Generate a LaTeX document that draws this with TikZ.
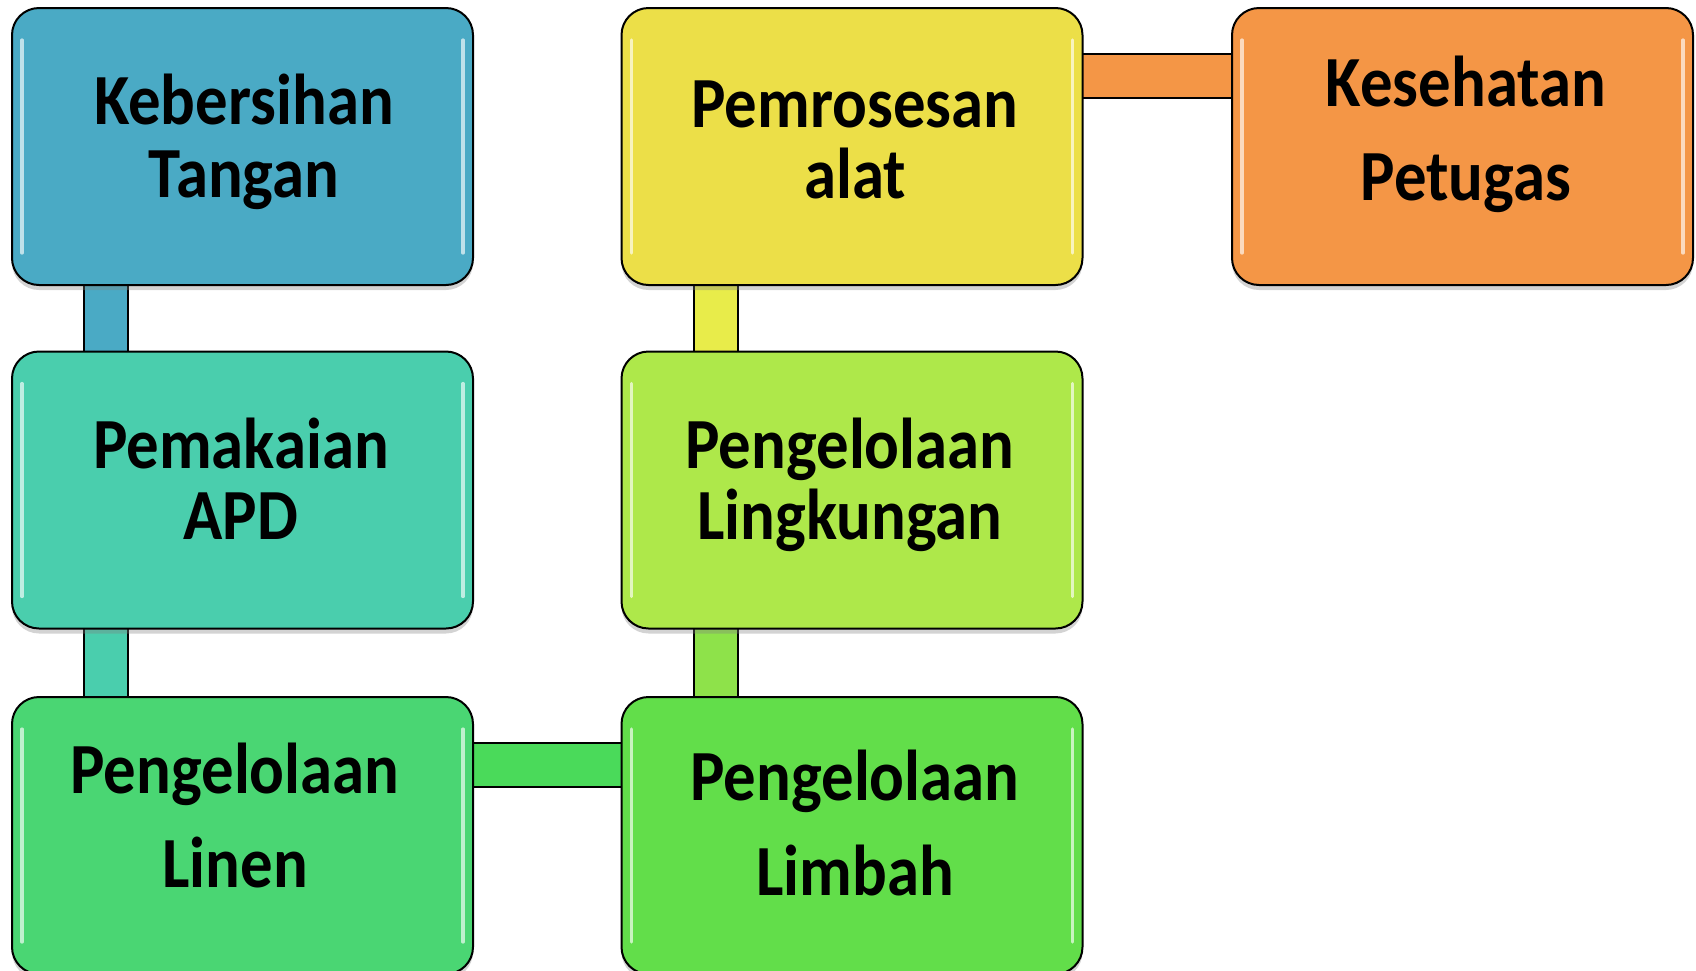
\documentclass[tikz,border=0pt]{standalone}
\usepackage{fontspec}
\setmainfont{Carlito}[FakeStretch=0.9]
\usetikzlibrary{shadows,calc}
\definecolor{cA}{RGB}{74,170,197}
\definecolor{cB}{RGB}{74,206,173}
\definecolor{cC}{RGB}{74,214,115}
\definecolor{cD}{RGB}{236,223,72}
\definecolor{cE}{RGB}{174,232,74}
\definecolor{cF}{RGB}{98,222,74}
\definecolor{cG}{RGB}{244,150,70}
\definecolor{kH}{RGB}{74,218,90}
\definecolor{kV}{RGB}{232,236,74}
\definecolor{kW}{RGB}{142,226,74}
\tikzset{
  box/.style={draw=black, line width=1pt, rounded corners=13.5pt,
    minimum width=230.5pt, minimum height=138.5pt, inner sep=0pt,
    drop shadow={shadow xshift=0pt, shadow yshift=-2.5pt, opacity=0.35},
    path picture={
      \draw[white, opacity=0.65, line width=1.6pt, line cap=round]
        ([xshift=5pt,yshift=-16pt]path picture bounding box.north west) --
        ([xshift=5pt,yshift=16pt]path picture bounding box.south west);
      \draw[white, opacity=0.65, line width=1.6pt, line cap=round]
        ([xshift=-5pt,yshift=-16pt]path picture bounding box.north east) --
        ([xshift=-5pt,yshift=16pt]path picture bounding box.south east);
    }},
  link/.style={draw=black, line width=1pt, double=#1, double distance=21pt},
  txt/.style={anchor=base, inner sep=0pt, font=\fontsize{36}{40}\selectfont\bfseries}
}
\begin{document}
\begin{tikzpicture}[x=0.5pt,y=-0.5pt]
\useasboundingbox (0,0) rectangle (1696,970);
% box positions
\coordinate (p1) at (242.5,146.5);
\coordinate (p2) at (242.5,490);
\coordinate (p3) at (242.5,835.5);
\coordinate (p4) at (852,146.5);
\coordinate (p5) at (852,490);
\coordinate (p6) at (852,835.5);
\coordinate (p7) at (1462.5,146.5);
% connectors
\draw[link=cA] ($(p1)+(-136.5,0)$) -- ($(p2)+(-136.5,0)$);
\draw[link=cB] ($(p2)+(-136.5,0)$) -- ($(p3)+(-136.5,0)$);
\draw[link=kV] ($(p4)+(-136.5,0)$) -- ($(p5)+(-136.5,0)$);
\draw[link=kW] ($(p5)+(-136.5,0)$) -- ($(p6)+(-136.5,0)$);
\draw[link=kH] ($(p3)+(0,-71)$) -- ($(p6)+(0,-71)$);
\draw[link=cG] ($(p4)+(0,-70.5)$) -- ($(p7)+(0,-70.5)$);
% boxes
\node[box, fill=cA] (b1) at (p1) {};
\node[box, fill=cB] (b2) at (p2) {};
\node[box, fill=cC] (b3) at (p3) {};
\node[box, fill=cD] (b4) at (p4) {};
\node[box, fill=cE] (b5) at (p5) {};
\node[box, fill=cF] (b6) at (p6) {};
\node[box, fill=cG] (b7) at (p7) {};
% texts
\node[txt] (t1a) at (244,124) {Kebersihan};
\node[txt] (t1b) at (244,197) {Tangan};
\node[txt] (t2a) at (241,468) {Pemakaian};
\node[txt] (t2b) at (241,539) {APD};
\node[txt] (t3a) at (235,793) {Pengelolaan};
\node[txt] (t3b) at (235,887) {Linen};
\node[txt] (t4a) at (855,127) {Pemrosesan};
\node[txt] (t4b) at (855,198) {alat};
\node[txt] (t5a) at (850,468) {Pengelolaan};
\node[txt] (t5b) at (850,539) {Lingkungan};
\node[txt] (t6a) at (855,800) {Pengelolaan};
\node[txt] (t6b) at (855,895) {Limbah};
\node[txt] (t7a) at (1466,106) {Kesehatan};
\node[txt] (t7b) at (1466,200) {Petugas};
\end{tikzpicture}
\end{document}
